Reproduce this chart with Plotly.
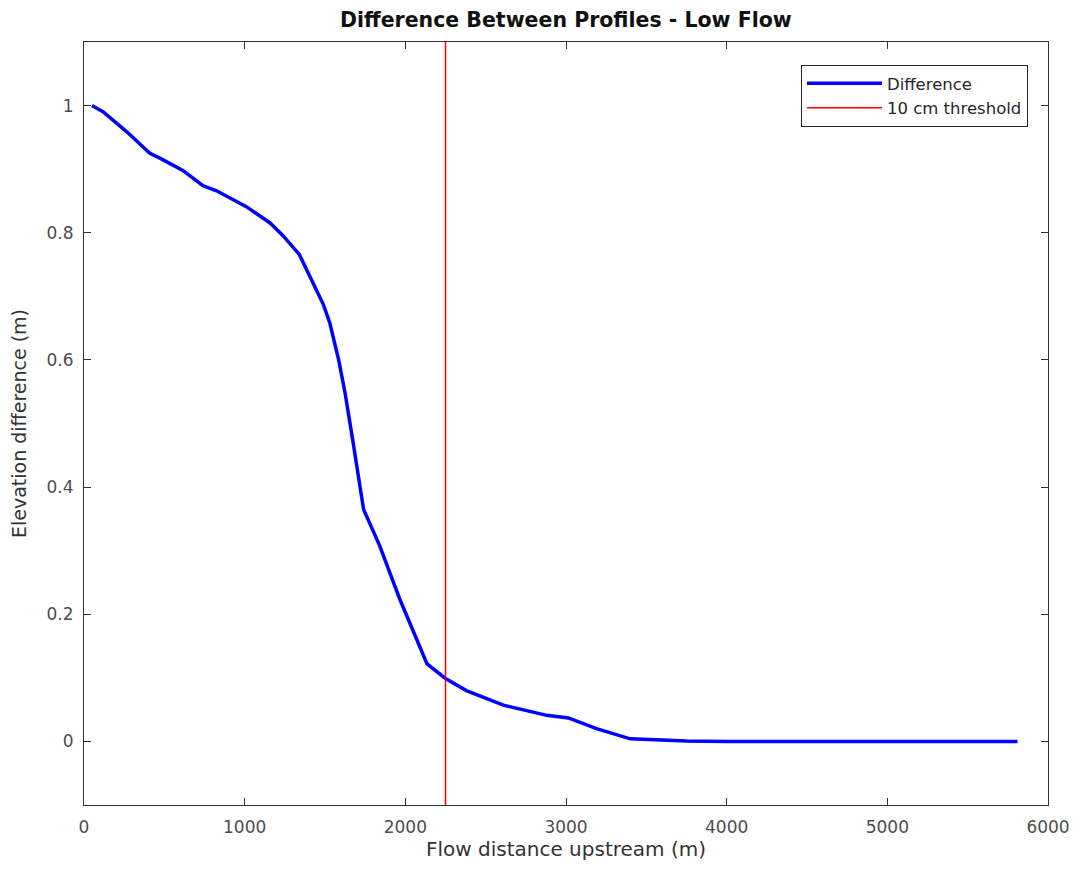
import plotly.graph_objects as go

distance = [50, 120, 270, 410, 475, 615, 740, 825, 1010, 1160, 1240, 1340, 1490, 1530,
            1585, 1625, 1675, 1740, 1840, 1965, 2135, 2250, 2380, 2610, 2880, 3015,
            3190, 3400, 3750, 4000, 5000, 5810]
difference = [1.0, 0.990, 0.958, 0.925, 0.917, 0.898, 0.874, 0.866, 0.841, 0.815, 0.795,
              0.766, 0.687, 0.658, 0.600, 0.548, 0.470, 0.365, 0.308, 0.224, 0.122,
              0.099, 0.080, 0.057, 0.041, 0.037, 0.020, 0.004, 0.0005, 0.0, 0.0, 0.0]
threshold_x = [2250, 2250]
threshold_y = [-0.1, 1.1]

x_ticks = [0, 1000, 2000, 3000, 4000, 5000, 6000]
y_ticks = [0, 0.2, 0.4, 0.6, 0.8, 1]
y_labels = ["0", "0.2", "0.4", "0.6", "0.8", "1"]

FONT = "DejaVu Sans, Liberation Sans, sans-serif"

fig = go.Figure()
fig.add_trace(go.Scatter(x=distance, y=difference, mode="lines", name="Difference",
                         line=dict(color="#0000ff", width=3.5)))
fig.add_trace(go.Scatter(x=threshold_x, y=threshold_y, mode="lines", name="10 cm threshold",
                         line=dict(color="#ff0000", width=1.5)))

axis_common = dict(showline=True, linecolor="#333333", linewidth=1, mirror="ticks",
                   ticks="inside", ticklen=7, tickcolor="#333333", showgrid=False,
                   zeroline=False, tickfont=dict(family=FONT, size=17, color="#4d4d4d"))

fig.update_layout(
    width=1062, height=853,
    margin=dict(l=76, r=22, t=34, b=56, autoexpand=False),
    paper_bgcolor="white", plot_bgcolor="white",
    font=dict(family=FONT, color="#333333"),
    title=dict(text="<b>Difference Between Profiles - Low Flow</b>", x=0.5253, xanchor="center",
               y=0.986, yanchor="middle", font=dict(family=FONT, size=20.5, color="#111111")),
    xaxis=dict(range=[0, 6000], tickvals=x_ticks, ticktext=[str(v) for v in x_ticks],
               ticklabelstandoff=7, automargin=True,
               title=dict(text="Flow distance upstream (m)", font=dict(family=FONT, size=20, color="#333333"),
                          standoff=8),
               **axis_common),
    yaxis=dict(range=[-0.1, 1.1], tickvals=y_ticks, ticktext=y_labels,
               ticklabelstandoff=6,
               title=dict(text="Elevation difference (m)", font=dict(family=FONT, size=19, color="#333333"),
                          standoff=14),
               **axis_common),
    legend=dict(x=0.979, y=0.97, xanchor="right", yanchor="top",
                bgcolor="white", bordercolor="#262626", borderwidth=1.2,
                itemwidth=75,
                font=dict(family=FONT, size=16.5, color="#262626"), tracegroupgap=0),
    showlegend=True,
)

fig.write_html("out.html")
